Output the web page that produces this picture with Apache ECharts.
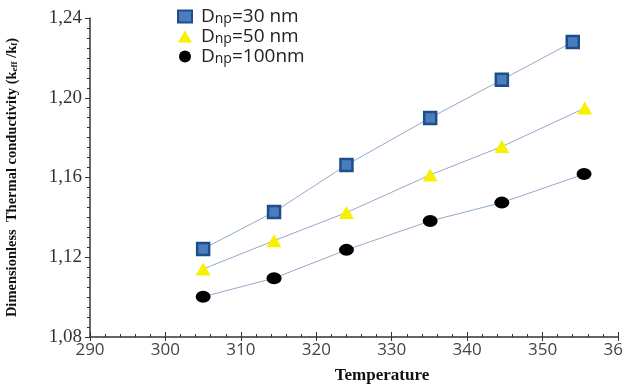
<!DOCTYPE html>
<html><head><meta charset="utf-8">
<script src="https://cdn.jsdelivr.net/npm/echarts@6/dist/echarts.min.js"></script>
<style>html,body{margin:0;padding:0;background:#fff}#c{width:623px;height:385px}</style>
</head><body><div id="c"></div>
<script>
var seriesNames = ['30 nm', '50 nm', '100nm'];
var temp30 = [305, 314.4, 324, 335.1, 344.6, 354];
var k30 = [1.1242, 1.1427, 1.1663, 1.1899, 1.209, 1.228];
var temp50 = [305, 314.4, 324, 335.1, 344.6, 355.6];
var k50 = [1.1141, 1.1283, 1.1424, 1.1613, 1.1755, 1.1948];
var temp100 = [305, 314.4, 324, 335.1, 344.6, 355.5];
var k100 = [1.1002, 1.1095, 1.1237, 1.1382, 1.1474, 1.1617];
var xTicks = [290, 300, 310, 320, 330, 340, 350, 360];
var yTicks = [1.08, 1.12, 1.16, 1.20, 1.24];

function pairs(xs, ys) { return xs.map(function (x, i) { return [x, ys[i]]; }); }

var chart = echarts.init(document.getElementById('c'), null, {renderer: 'canvas'});
var serif = 'Liberation Serif, Times New Roman, serif';
var lineStyle = {color: '#93abc8', width: 1};
var axisBase = {
  axisLine: {lineStyle: {color: '#333', width: 1.5}},
  splitLine: {show: false}
};
chart.setOption({
  animation: false,
  backgroundColor: '#fff',
  grid: {left: 90, right: 5, top: 18, bottom: 48, outerBoundsMode: 'none', containLabel: false},
  legend: {
    left: 172, top: 1, orient: 'vertical', itemGap: 0, itemWidth: 14, itemHeight: 12,
    data: [{name: seriesNames[0], icon: 'rect'}, {name: seriesNames[1], icon: 'triangle'}, {name: seriesNames[2], icon: 'circle'}],
    formatter: function (n) { return '{a|D}{b|np}{a|=' + n + '}'; },
    textStyle: {
      padding: [0, 0, 0, 4],
      rich: {
        a: {fontFamily: 'Open Sans', fontSize: 19, color: '#222', lineHeight: 19},
        b: {fontFamily: 'Open Sans', fontSize: 14, color: '#222', lineHeight: 19, verticalAlign: 'bottom', padding: [6, 0, 0, 0]}
      }
    }
  },
  xAxis: [Object.assign({
    type: 'value', min: 290, max: 360, interval: 10,
    name: 'Temperature', nameLocation: 'middle', nameGap: 30,
    nameTextStyle: {fontFamily: serif, fontWeight: 'bold', fontSize: 17, color: '#111', padding: [0, 0, 0, 56]},
    axisLabel: {margin: 5,
      formatter: function (v) { return xTicks.indexOf(v) >= 0 ? '{t|' + v + '}' : ''; },
      rich: {t: {fontFamily: 'Open Sans', fontSize: 17, color: '#444'}}},
    axisTick: {show: true, inside: true, length: 5, lineStyle: {color: '#333'}},
    minorTick: {show: true, splitNumber: 5, length: 3, lineStyle: {color: '#333'}}
  }, axisBase), {
    type: 'value', min: 290, max: 360, interval: 10, position: 'bottom',
    axisLine: {show: false}, axisLabel: {show: false}, splitLine: {show: false},
    axisTick: {show: true, inside: false, length: 4, lineStyle: {color: '#333'}}
  }],
  yAxis: [Object.assign({
    type: 'value', min: 1.08, max: 1.24, interval: 0.04,
    name: 'Dimensionless  Thermal conductivity (k{s|eff} /k{s|f})',
    nameLocation: 'middle', nameGap: 70, nameRotate: 90,
    nameTextStyle: {fontFamily: serif, fontWeight: 'bold', fontSize: 14.5, color: '#111',
      rich: {s: {fontFamily: serif, fontWeight: 'bold', fontSize: 9, color: '#111', padding: [5, 0, 0, 0]}}},
    axisLabel: {margin: 8,
      formatter: function (v) {
        var t = yTicks.filter(function (y) { return Math.abs(y - v) < 1e-6; });
        return t.length ? '{t|' + t[0].toFixed(2).replace('.', ',') + '}' : '';
      },
      rich: {t: {fontFamily: serif, fontSize: 19, color: '#333'}}},
    axisTick: {show: true, inside: false, length: 5, lineStyle: {color: '#333'}},
    minorTick: {show: true, splitNumber: 8, length: 3, lineStyle: {color: '#333'}}
  }, axisBase)],
  series: [
    {name: seriesNames[0], type: 'line', data: pairs(temp30, k30), symbol: 'rect', symbolSize: 12,
      itemStyle: {color: '#4a7dc0', borderColor: '#1f4d8a', borderWidth: 2.5}, lineStyle: lineStyle, z: 3},
    {name: seriesNames[1], type: 'line', data: pairs(temp50, k50), symbol: 'triangle', symbolSize: [15, 13],
      itemStyle: {color: '#f7f000'}, lineStyle: lineStyle, z: 3},
    {name: seriesNames[2], type: 'line', data: pairs(temp100, k100), symbol: 'circle', symbolSize: [15, 12],
      itemStyle: {color: '#000'}, lineStyle: lineStyle, z: 3}
  ]
});
</script></body></html>
